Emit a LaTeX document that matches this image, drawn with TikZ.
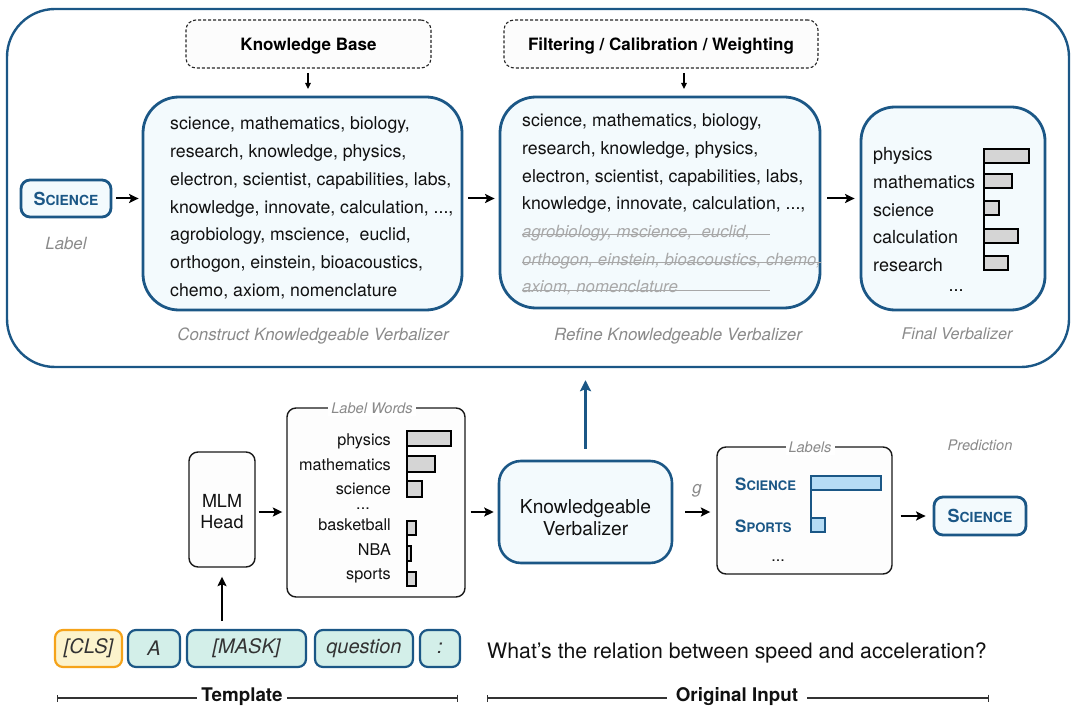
\documentclass[tikz,border=0pt]{standalone}
\usepackage{fontspec}
\setmainfont{TeX Gyre Heros}
\usetikzlibrary{arrows.meta,calc}
\definecolor{kblue}{HTML}{1B5786}
\definecolor{kfill}{HTML}{F3FAFD}
\definecolor{tokfill}{HTML}{D3EFE9}
\definecolor{clsfill}{HTML}{FCF3CC}
\definecolor{clsdraw}{HTML}{F5A31A}
\definecolor{barblue}{HTML}{B5DCF5}
\definecolor{bargray}{HTML}{D5D5D5}
\definecolor{capgray}{HTML}{8A8A8A}
\definecolor{strikegray}{HTML}{A8A8A8}
\definecolor{txt}{HTML}{111111}
\newcommand{\fsz}[1]{\fontsize{#1}{#1}\selectfont}
\newcommand{\fakesc}[4]{{\bfseries\fsz{#3}#1\fsz{#4}#2}}
\newcommand{\tdots}{...}
\begin{document}
\begin{tikzpicture}[x=1pt,y=-1pt,
  txtnode/.style={inner sep=0pt, text=txt},
  bluebox/.style={draw=kblue, line width=2.8pt, fill=kfill},
  dashbox/.style={draw=black!85, line width=1.1pt, dash pattern=on 3pt off 2pt, rounded corners=10pt, fill=black!1, text depth=0pt},
  plainbox/.style={draw=black!90, line width=1.4pt, rounded corners=9pt, fill=black!0.6},
  token/.style={draw=kblue, line width=2.2pt, fill=tokfill, rounded corners=8pt, minimum height=37pt, inner sep=0pt, font=\itshape\fsz{20}, text=black!80},
  caption/.style={inner sep=0pt, text=capgray, font=\itshape\fsz{16.9}},
  boxtitle/.style={fill=white, inner sep=3pt, text=capgray, font=\itshape\fsz{14.6}},
  arr/.style={line width=2pt, -{Stealth[length=9.5pt,width=9pt,inset=2pt]}},
  thinarr/.style={line width=1.3pt, -{Triangle[length=6pt,width=5.5pt]}},
  bluearr/.style={draw=kblue, line width=3.3pt, -{Stealth[length=11pt,width=11pt,inset=2pt]}},
  bar/.style={draw=black, line width=2.5pt, fill=bargray},
  bbar/.style={draw=kblue, line width=2.5pt, fill=barblue},
  strike/.style={draw=strikegray, line width=1.1pt},
  bracket/.style={draw=black!80, line width=1.3pt},
]
\useasboundingbox (0,0) rectangle (1078,711);

% ---------- outer box ----------
\node[draw=kblue, line width=2.4pt, rounded corners=48pt, minimum width=1062pt, minimum height=358pt] (outer) at (538,188) {};

% ---------- label ----------
\node[bluebox, rounded corners=9pt, minimum width=90pt, minimum height=37pt, inner sep=0pt, text=kblue] (lab) at (66,198.5) {\fakesc{S}{CIENCE}{18}{13.9}};
\node[caption, font=\itshape\fsz{16.8}] (labcap) at (66,244) {Label};

% ---------- knowledge base ----------
\node[dashbox, minimum width=245pt, minimum height=48pt, font=\bfseries\fsz{17}] (kb) at (308.5,44) {Knowledge Base};
\node[bluebox, rounded corners=36pt, minimum width=319pt, minimum height=213pt] (cons) at (302.5,203.5) {};
\foreach \t [count=\i from 0] in {{science, mathematics, biology,},{research, knowledge, physics,},{electron, scientist, capabilities, labs,},{knowledge, innovate, calculation, \tdots,},{agrobiology, mscience,\ \ euclid,},{orthogon, einstein, bioacoustics,},{chemo, axiom, nomenclature}}
  \node[txtnode, anchor=mid west, font=\fsz{17.7}] (c\i) at (170,{127+27.8*\i}) {\t};
\node[caption] (conscap) at (313,336) {Construct Knowledgeable Verbalizer};

% ---------- filtering ----------
\node[dashbox, minimum width=314pt, minimum height=48pt, font=\bfseries\fsz{17}] (filt) at (661,44) {Filtering / Calibration / Weighting};
\node[bluebox, rounded corners=36pt, minimum width=320pt, minimum height=211pt] (ref) at (660,202.5) {};
\foreach \t [count=\i from 0] in {{science, mathematics, biology,},{research, knowledge, physics,},{electron, scientist, capabilities, labs,},{knowledge, innovate, calculation, \tdots,}}
  \node[txtnode, anchor=mid west, font=\fsz{17.7}] (r\i) at (522,{124+27.7*\i}) {\t};
\foreach \t [count=\i from 4] in {{agrobiology, mscience,\ \ euclid,},{orthogon, einstein, bioacoustics, chemo,},{axiom, nomenclature}}
  \node[txtnode, anchor=mid west, font=\itshape\fsz{16.8}, text=strikegray] (r\i) at (522,{124+27.7*\i}) {\t};
\coordinate (sx) at (770,0);
\draw[strike] (r4.mid west) -- (r4.mid west -| sx);
\draw[strike] (r5.mid west) -- (r5.mid east);
\draw[strike] (r6.mid west) -- (r6.mid west -| sx);
\node[caption] (refcap) at (678,336) {Refine Knowledgeable Verbalizer};

% ---------- final ----------
\node[bluebox, rounded corners=34pt, minimum width=184pt, minimum height=203pt] (fin) at (953,208.5) {};
\foreach \t/\y [count=\i] in {physics/158,mathematics/186,science/213.5,calculation/241,research/268.5}
  \node[txtnode, anchor=mid west, font=\fsz{18}] (f\i) at (873,\y) {\t};
\node[txtnode, font=\fsz{18}] (fdots) at (956,291) {\tdots};
\draw[line width=2.5pt] (984,149) -- (984,270);
\draw[bar] (984,149) rectangle (1029,163);
\draw[bar] (984,174) rectangle (1012,188);
\draw[bar] (984,201) rectangle (999,215);
\draw[bar] (984,229) rectangle (1018,243);
\draw[bar] (984,256) rectangle (1008,270);
\node[caption, font=\itshape\fsz{16.1}] (fincap) at (957,334) {Final Verbalizer};

% top arrows
\coordinate (kbs) at (308,73);
\coordinate (kbe) at (308,89);
\coordinate (fis) at (684,73);
\coordinate (fie) at (684,89);
\draw[thinarr] (kbs) -- (kbe);
\draw[thinarr] (fis) -- (fie);
\draw[arr] ($(lab.east)+(4,0)$) -- ($(cons.west |- lab.east)+(-3,0)$);
\draw[arr] ($(cons.east |- lab.east)+(5,0)$) -- ($(ref.west |- lab.east)+(-4,0)$);
\draw[arr] ($(ref.east |- lab.east)+(6,0)$) -- ($(fin.west |- lab.east)+(-5,0)$);

% ---------- bottom ----------
\node[plainbox, minimum width=66pt, minimum height=115pt] (mlm) at (222,509.5) {};
\node[txtnode, align=center, font=\fsz{18}] (mlmt) at (222,512) {MLM\\[3pt]Head};
\node[plainbox, minimum width=178pt, minimum height=189pt] (lw) at (376,502.5) {};
\node[boxtitle] (lwt) at (372,408) {Label Words};
\foreach \t/\y [count=\i] in {physics/443,mathematics/468,science/492,basketball/528,NBA/553,sports/577}
  \node[txtnode, anchor=mid east, font=\fsz{16.2}] (w\i) at (391,\y) {\t};
\node[txtnode, font=\fsz{16.2}] (wdots) at (363,509) {\tdots};
\draw[line width=2.5pt] (407,431) -- (407,497);
\draw[line width=2.5pt] (407,521) -- (407,586);
\draw[bar] (407,431) rectangle (451,446);
\draw[bar] (407,456) rectangle (435,472);
\draw[bar] (407,481) rectangle (422,497);
\draw[bar] (407,521) rectangle (416,535);
\draw[bar] (407,546) rectangle (411,561);
\draw[bar] (407,572) rectangle (416,586);

\node[bluebox, line width=2.6pt, rounded corners=22pt, minimum width=173pt, minimum height=102pt] (kv) at (585.5,512) {};
\node[txtnode, align=center, font=\fsz{19.2}] (kvt) at (585.5,518) {Knowledgeable\\[3pt]Verbalizer};

\node[plainbox, minimum width=175pt, minimum height=127pt] (labs) at (804.5,510.5) {};
\node[boxtitle] (labst) at (810,447) {Labels};
\node[txtnode, anchor=west, text=kblue] (ls1) at (735,484) {\fakesc{S}{CIENCE}{17}{13.1}};
\node[txtnode, anchor=west, text=kblue] (ls2) at (735,526) {\fakesc{S}{PORTS}{17}{13.1}};
\node[txtnode, font=\fsz{16.2}] (ldots) at (778,561) {\tdots};
\draw[draw=kblue, line width=2.5pt] (811,476) -- (811,532);
\draw[bbar] (811,476) rectangle (881,490);
\draw[bbar] (811,518) rectangle (825,532);

\node[txtnode, text=capgray, font=\itshape\fsz{14.6}] (predt) at (980,445) {Prediction};
\node[bluebox, rounded corners=9pt, minimum width=92pt, minimum height=38pt, inner sep=0pt, text=kblue] (pred) at (980,516) {\fakesc{S}{CIENCE}{18}{13.9}};

\draw[arr] ($(mlm.east)+(3,2.5)$) -- ($(lw.west |- mlm.east)+(-4,2.5)$);
\draw[arr] ($(lw.east |- kv.west)+(5,0)$) -- ($(kv.west)+(-4,0)$);
\draw[arr] ($(kv.east)+(12,0)$) -- ($(labs.west |- kv.east)+(-6,0)$);
\node[txtnode, text=capgray, font=\itshape\fsz{17}] (g) at (697,491) {g};
\draw[arr] ($(labs.east |- pred.west)+(8,0)$) -- ($(pred.west)+(-7,0)$);
\draw[bluearr] ($(kv.north)+(0,-11)$) -- ($(outer.south -| kv.north)+(0,12)$);

% ---------- template ----------
\node[token, draw=clsdraw, fill=clsfill, minimum width=67pt] (cls) at (88.5,648.5) {[CLS]};
\node[token, minimum width=52pt] (ta) at (154,648.5) {A};
\node[token, minimum width=119pt] (mask) at (246.5,648.5) {[MASK]};
\node[token, minimum width=98pt] (quest) at (364,648.5) {question};
\node[token, minimum width=40pt] (colon) at (440,648.5) {:};
\coordinate (mup) at (222,621);
\draw[arr] (mup) -- ($(mlm.south)+(0,9)$);
\node[txtnode, anchor=west, font=\fsz{21.3}] (q) at (487,653) {What's the relation between speed and acceleration?};

\node[inner sep=4pt, font=\bfseries\fsz{18.8}, text=txt] (tmpl) at (242,697) {Template};
\coordinate (tl) at (57,698);
\coordinate (tr) at (458,698);
\draw[bracket, {Bar[width=7pt]}-] (tl) -- (tmpl.west |- tl);
\draw[bracket, -{Bar[width=7pt]}] (tmpl.east |- tr) -- (tr);
\node[inner sep=9pt, font=\bfseries\fsz{18.8}, text=txt] (orig) at (737,697) {Original Input};
\coordinate (ol) at (487,698);
\coordinate (or) at (989,698);
\draw[bracket, {Bar[width=7pt]}-] (ol) -- (orig.west |- ol);
\draw[bracket, -{Bar[width=7pt]}] (orig.east |- or) -- (or);
\end{tikzpicture}
\end{document}
